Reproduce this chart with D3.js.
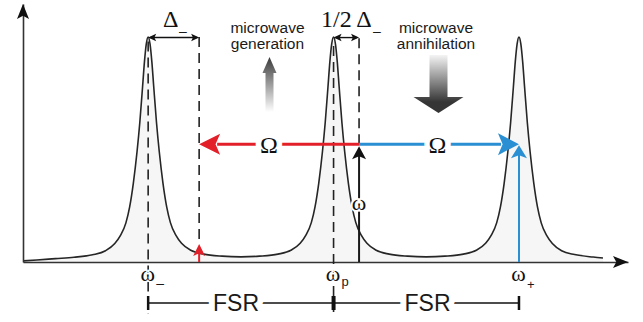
<!DOCTYPE html>
<html>
<head>
<meta charset="utf-8">
<script src="https://cdn.jsdelivr.net/npm/d3@7"></script>
<style>
  body { margin: 0; background: #fff; }
  svg { display: block; }
  .serif { font-family: "Liberation Serif", "DejaVu Serif", serif; fill: #111; }
  .sans { font-family: "Liberation Sans", Arial, sans-serif; fill: #1a1a1a; }
  .halo { paint-order: stroke; stroke: #fff; stroke-linejoin: round; }
</style>
</head>
<body>
<svg id="chart"></svg>
<script>
// frequencies in units of FSR, relative to the pump resonance ω_p
const resonanceFreqs = [-1, 0, 1];
const resonanceSubs = ['–', 'p', '+'];

// transmission spectrum [frequency, level]
const spectrum = [
  [-1.675, 0.005], [-1.6, 0.009], [-1.5, 0.015], [-1.4, 0.021], [-1.3, 0.032], [-1.23, 0.05],
  [-1.18, 0.082], [-1.15, 0.117], [-1.12, 0.174], [-1.10, 0.244], [-1.08, 0.35], [-1.06, 0.49],
  [-1.045, 0.62], [-1.03, 0.78], [-1.02, 0.89], [-1.01, 0.97], [-1, 1],
  [-0.99, 0.97], [-0.98, 0.89], [-0.97, 0.78], [-0.955, 0.62], [-0.94, 0.49], [-0.92, 0.35],
  [-0.90, 0.245], [-0.88, 0.175], [-0.85, 0.118], [-0.82, 0.083], [-0.77, 0.052], [-0.70, 0.035],
  [-0.60, 0.026], [-0.50, 0.023], [-0.40, 0.026], [-0.30, 0.035], [-0.23, 0.052], [-0.18, 0.083],
  [-0.15, 0.118], [-0.12, 0.175], [-0.10, 0.245], [-0.08, 0.35], [-0.06, 0.49], [-0.045, 0.62],
  [-0.03, 0.78], [-0.02, 0.89], [-0.01, 0.97], [0, 1],
  [0.01, 0.97], [0.02, 0.89], [0.03, 0.78], [0.045, 0.62], [0.06, 0.49], [0.08, 0.35],
  [0.10, 0.245], [0.12, 0.175], [0.15, 0.118], [0.18, 0.083], [0.23, 0.052], [0.30, 0.035],
  [0.40, 0.026], [0.50, 0.023], [0.60, 0.026], [0.70, 0.035], [0.77, 0.052], [0.82, 0.083],
  [0.85, 0.118], [0.88, 0.175], [0.90, 0.245], [0.92, 0.35], [0.94, 0.49], [0.955, 0.62],
  [0.97, 0.78], [0.98, 0.89], [0.99, 0.97], [1, 1],
  [1.01, 0.97], [1.02, 0.89], [1.03, 0.78], [1.045, 0.62], [1.06, 0.49], [1.08, 0.35],
  [1.10, 0.244], [1.12, 0.174], [1.15, 0.117], [1.18, 0.082], [1.23, 0.05], [1.30, 0.033],
  [1.40, 0.022], [1.453, 0.018]
];

const detuning = 0.275;      // Δ_
const omegaLevel = 0.524;    // height of the Ω arrows
const redTipLevel = 0.08;    // tip of the small red arrow at ω_- + Δ_
const fsrLabels = ['FSR', 'FSR'];
const captionUp = ['microwave', 'generation'];
const captionDown = ['microwave', 'annihilation'];

const width = 643, height = 322;
const red = '#e3202a', blue = '#2b8fd3', ink = '#222';

const svg = d3.select('#chart').attr('width', width).attr('height', height);

const x = d3.scaleLinear().domain([-1.675, 1.588]).range([23, 628]);
const y = d3.scaleLinear().domain([0, 1.147]).range([262, 4]);

// derived positions
const wMinus = resonanceFreqs[0], wPlus = resonanceFreqs[2];
const redFreq = wMinus + detuning;
const omegaFreq = resonanceFreqs[1] + detuning / 2;
const bigOmega = omegaFreq - redFreq;
const blueFreq = omegaFreq + bigOmega;

// stealth arrowhead pointing along +x, rotated into place
function arrowHead(g, tx, ty, angle, len, half, color) {
  const notch = len * 0.22;
  g.append('path')
    .attr('d', `M0,0L${-len},${-half}L${-len + notch},0L${-len},${half}Z`)
    .attr('transform', `translate(${tx},${ty}) rotate(${angle})`)
    .attr('fill', color);
}

// gradients for the microwave arrows
const defs = svg.append('defs');
const gUp = defs.append('linearGradient').attr('id', 'gradUp')
  .attr('gradientUnits', 'userSpaceOnUse').attr('x1', 0).attr('x2', 0).attr('y1', 57).attr('y2', 112);
gUp.append('stop').attr('offset', 0).attr('stop-color', '#3a3a3a');
gUp.append('stop').attr('offset', 1).attr('stop-color', '#ffffff');
const gDown = defs.append('linearGradient').attr('id', 'gradDown')
  .attr('gradientUnits', 'userSpaceOnUse').attr('x1', 0).attr('x2', 0).attr('y1', 55).attr('y2', 102);
gDown.append('stop').attr('offset', 0).attr('stop-color', '#f4f4f4');
gDown.append('stop').attr('offset', 1).attr('stop-color', '#353535');

// spectrum
const area = d3.area().x(d => x(d[0])).y0(y(0)).y1(d => y(d[1])).curve(d3.curveMonotoneX);
const line = d3.line().x(d => x(d[0])).y(d => y(d[1])).curve(d3.curveMonotoneX);
svg.append('path').datum(spectrum).attr('d', area).attr('fill', '#f6f6f6');
svg.append('path').datum(spectrum).attr('d', line)
  .attr('fill', 'none').attr('stroke', '#262626').attr('stroke-width', 1.6);

// axes (no ticks, arrow tips only)
const xAxisG = svg.append('g').attr('transform', `translate(0,${y(0)})`)
  .call(d3.axisBottom(x).tickValues([]).tickSizeOuter(0));
const yAxisG = svg.append('g').attr('transform', `translate(${x.range()[0]},0)`)
  .call(d3.axisLeft(y).tickValues([]).tickSizeOuter(0));
svg.selectAll('.domain').attr('stroke', '#333').attr('stroke-width', 1.6);
arrowHead(svg, x.range()[1], y(0), 0, 15, 6, '#111');
arrowHead(svg, x.range()[0], y.range()[1], -90, 15, 6, '#111');

// dashed guides
const dashed = [
  [wMinus, 0.98, -0.23],
  [redFreq, 1.0, redTipLevel],
  [resonanceFreqs[1], 0.96, -0.23],
  [omegaFreq, 0.995, omegaLevel]
];
svg.selectAll('.guide').data(dashed).enter().append('line')
  .attr('class', 'guide')
  .attr('x1', d => x(d[0])).attr('x2', d => x(d[0]))
  .attr('y1', d => y(d[1])).attr('y2', d => y(d[2]))
  .attr('stroke', ink).attr('stroke-width', 1.6).attr('stroke-dasharray', '10,6');

// Δ_ and 1/2 Δ_ double arrows
[[wMinus, redFreq], [resonanceFreqs[1], omegaFreq]].forEach(([a, b]) => {
  const yy = y(1) + 0.5;
  svg.append('line').attr('x1', x(a) + 2).attr('x2', x(b) - 2).attr('y1', yy).attr('y2', yy)
    .attr('stroke', '#111').attr('stroke-width', 1.4);
  arrowHead(svg, x(a), yy, 180, 8, 3.8, '#111');
  arrowHead(svg, x(b), yy, 0, 8, 3.8, '#111');
});
svg.append('text').attr('class', 'serif').attr('x', (x(wMinus) + x(redFreq)) / 2 - 3).attr('y', 27)
  .attr('text-anchor', 'middle').style('font-size', '24px').text('Δ');
svg.append('text').attr('class', 'sans').attr('x', 179).attr('y', 36).style('font-size', '14px').text('–');
svg.append('text').attr('class', 'serif').attr('x', 321).attr('y', 27).style('font-size', '24px').text('1/2 Δ');
svg.append('text').attr('class', 'sans').attr('x', 373).attr('y', 36).style('font-size', '14px').text('–');

// ω vertical arrow (pump)
svg.append('line').attr('x1', x(omegaFreq)).attr('x2', x(omegaFreq))
  .attr('y1', y(0)).attr('y2', y(omegaLevel) + 8)
  .attr('stroke', '#1a1a1a').attr('stroke-width', 2);

// Ω arrows
const oy = y(omegaLevel);
svg.append('line').attr('x1', x(redFreq) + 18).attr('x2', x(omegaFreq)).attr('y1', oy).attr('y2', oy)
  .attr('stroke', red).attr('stroke-width', 3);
svg.append('line').attr('x1', x(omegaFreq)).attr('x2', x(blueFreq) - 18).attr('y1', oy).attr('y2', oy)
  .attr('stroke', blue).attr('stroke-width', 3);
arrowHead(svg, x(redFreq), oy, 180, 21, 10.5, red);
arrowHead(svg, x(blueFreq), oy, 0, 21, 11, blue);

// blue vertical arrow at ω_+
svg.append('line').attr('x1', x(wPlus)).attr('x2', x(wPlus))
  .attr('y1', y(0)).attr('y2', oy + 8).attr('stroke', blue).attr('stroke-width', 2);
arrowHead(svg, x(wPlus), oy + 1, -90, 13, 8, blue);
arrowHead(svg, x(omegaFreq), oy + 2, -90, 13, 7, '#111');

// small red arrow at ω_- + Δ_
svg.append('line').attr('x1', x(redFreq)).attr('x2', x(redFreq))
  .attr('y1', y(0)).attr('y2', y(redTipLevel) + 6).attr('stroke', red).attr('stroke-width', 2);
arrowHead(svg, x(redFreq), y(redTipLevel), -90, 12, 6, red);

// Ω and ω labels
svg.append('text').attr('class', 'serif halo').attr('x', 269).attr('y', oy + 8.5)
  .attr('text-anchor', 'middle').style('font-size', '24px').style('stroke-width', '11px').text('Ω');
svg.append('text').attr('class', 'serif halo').attr('x', 437.5).attr('y', oy + 8.5)
  .attr('text-anchor', 'middle').style('font-size', '24px').style('stroke-width', '11px').text('Ω');
svg.append('text').attr('class', 'serif halo').attr('x', x(omegaFreq)).attr('y', 210)
  .attr('text-anchor', 'middle').style('font-size', '22px').style('stroke-width', '4px').text('ω');

// microwave arrows
const ux = 269.5;
svg.append('path')
  .attr('d', `M${ux},57L${ux + 7},73L${ux + 4},73L${ux + 4},112L${ux - 4},112L${ux - 4},73L${ux - 7},73Z`)
  .attr('fill', 'url(#gradUp)');
const dx = 438.5;
svg.append('path')
  .attr('d', `M${dx - 9},55L${dx + 9},55L${dx + 9},97L${dx + 25},97L${dx},113L${dx - 25},97L${dx - 9},97Z`)
  .attr('fill', 'url(#gradDown)');

[[captionUp, 267.5], [captionDown, 436]].forEach(([lines, cx]) => {
  svg.selectAll(null).data(lines).enter().append('text')
    .attr('class', 'sans').attr('x', cx).attr('y', (d, i) => 33 + i * 16)
    .attr('text-anchor', 'middle').style('font-size', '15.5px').text(d => d);
});

// resonance labels
const labels = svg.selectAll('.res').data(resonanceFreqs).enter().append('g').attr('class', 'res');
labels.append('text').attr('class', 'serif halo')
  .attr('x', d => x(d) - 0.5).attr('y', 281).attr('text-anchor', 'middle')
  .style('font-size', '22px').style('stroke-width', '3px').text('ω');
labels.append('text').attr('class', 'sans')
  .attr('x', d => x(d) + 8).attr('y', (d, i) => [288, 286, 289][i])
  .style('font-size', (d, i) => i === 0 ? '14px' : '13px')
  .text((d, i) => resonanceSubs[i]);

// FSR bar
const barY = 303;
svg.append('line').attr('x1', x(wMinus)).attr('x2', x(wPlus)).attr('y1', barY).attr('y2', barY)
  .attr('stroke', '#111').attr('stroke-width', 1.6);
svg.selectAll('.tick-fsr').data(resonanceFreqs).enter().append('line')
  .attr('class', 'tick-fsr')
  .attr('x1', d => x(d)).attr('x2', d => x(d)).attr('y1', barY - 7).attr('y2', barY + 7)
  .attr('stroke', '#111').attr('stroke-width', (d, i) => i === 1 ? 4 : 2.5);
svg.selectAll('.fsr').data(fsrLabels).enter().append('text')
  .attr('class', 'sans halo')
  .attr('x', (d, i) => [236, 427.5][i]).attr('y', barY + 8)
  .attr('text-anchor', 'middle').style('font-size', '23px').style('stroke-width', '12px')
  .text(d => d);
</script>
</body>
</html>
